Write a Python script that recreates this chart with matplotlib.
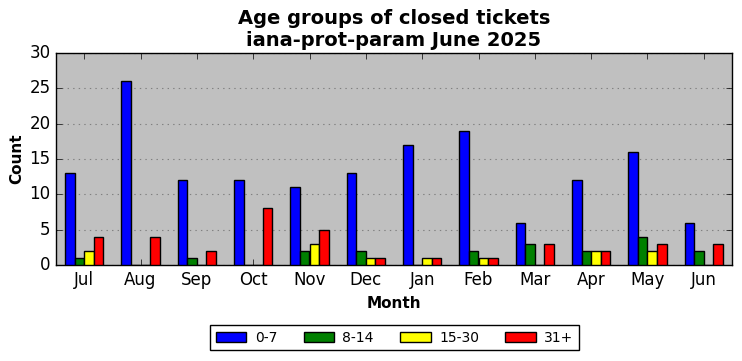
import matplotlib
matplotlib.use("Agg")
import matplotlib.pyplot as plt
import numpy as np

meses = ["Jul", "Aug", "Sep", "Oct", "Nov", "Dec", "Jan", "Feb", "Mar", "Apr", "May", "Jun"]
grupos = ["0-7", "8-14", "15-30", "31+"]
colores = ["blue", "green", "yellow", "red"]

g_0_7 = [13, 26, 12, 12, 11, 13, 17, 19, 6, 12, 16, 6]
g_8_14 = [1, 0, 1, 0, 2, 2, 0, 2, 3, 2, 4, 2]
g_15_30 = [2, 0, 0, 0, 3, 1, 1, 1, 0, 2, 2, 0]
g_31 = [4, 4, 2, 8, 5, 1, 1, 1, 3, 2, 3, 3]

plt.style.use("classic")
fig = plt.figure(figsize=(7.42, 3.61), dpi=100)
ax = fig.add_axes([56 / 742, 1 - 265 / 361, 676 / 742, 212 / 361])
ax.set_facecolor("#c0c0c0")
ax.set_axisbelow(True)

x = np.arange(len(meses))
ancho = 0.17
series = [g_0_7, g_8_14, g_15_30, g_31]
for i, (vals, nombre, color) in enumerate(zip(series, grupos, colores)):
    ax.bar(x + (i - 1.5) * ancho, vals, ancho, color=color, edgecolor="black",
           linewidth=1, label=nombre, zorder=3)

ax.set_xlim(-0.5, 11.5)
ax.set_ylim(0, 30)
ax.set_xticks(x)
ax.set_xticklabels(meses)
ax.set_yticks(range(0, 31, 5))
ax.yaxis.grid(True, linestyle=":", color="gray", linewidth=0.8)
ax.xaxis.grid(False)
ax.tick_params(labelsize=12)
ax.set_xlabel("Month", fontsize=11, fontweight="bold")
ax.set_ylabel("Count", fontsize=11, fontweight="bold", labelpad=4)
ax.set_title("Age groups of closed tickets\niana-prot-param June 2025",
             fontsize=14, fontweight="bold")

fig.legend(loc="lower center", bbox_to_anchor=(0.532, 0.01), ncol=4,
           fontsize=10, frameon=True, handlelength=2.2, columnspacing=1.9,
           handletextpad=0.6)

fig.savefig("out.png", dpi=100)
